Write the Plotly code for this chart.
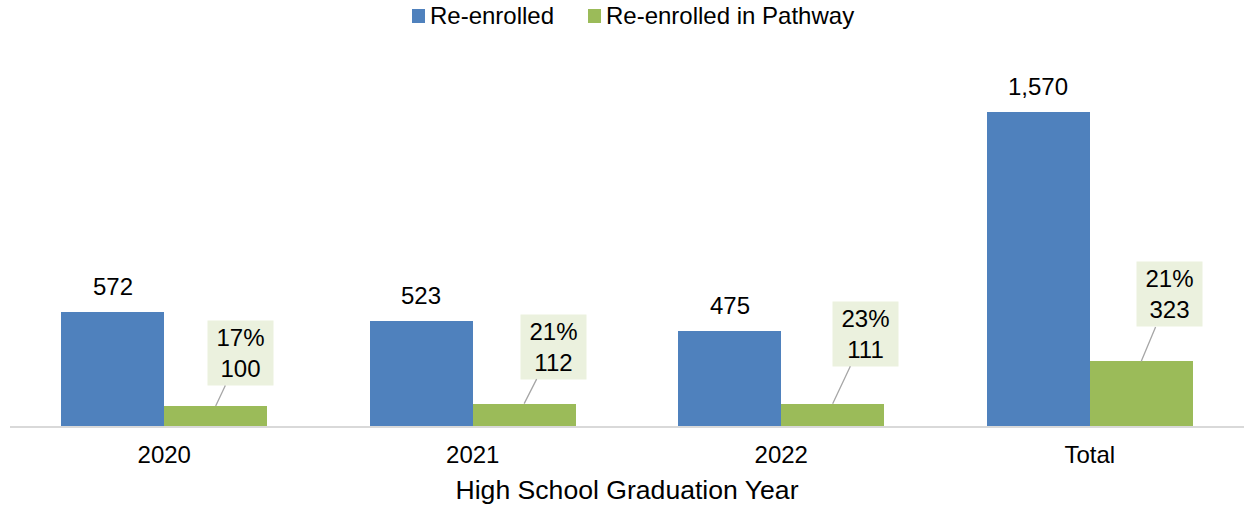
import plotly.graph_objects as go

categories = ["2020", "2021", "2022", "Total"]
re_enrolled = [572, 523, 475, 1570]
re_enrolled_pathway = [100, 112, 111, 323]
series_names = ["Re-enrolled", "Re-enrolled in Pathway"]

BLUE = "#4F81BD"
GREEN = "#9BBB59"
FONT = "Liberation Sans, Arial, sans-serif"

W, H = 1244, 508
ML, MR, MT, MB = 10, 0, 0, 82

# callout offsets (pixels) for pathway labels
callout_dx = [25, 29, 33, 28]
callout_dy = [-53, -57, -70, -67]

xs = list(range(len(categories)))
bw = 1 / 3

fig = go.Figure()
fig.add_trace(go.Bar(
    x=xs, y=re_enrolled, name=series_names[0], marker_color=BLUE,
    width=bw, offset=-bw, marker_line_width=0, showlegend=False,
))
fig.add_trace(go.Bar(
    x=xs, y=re_enrolled_pathway, name=series_names[1], marker_color=GREEN,
    width=bw, offset=0, marker_line_width=0, showlegend=False,
))

annotations = []
for i, (a, b) in enumerate(zip(re_enrolled, re_enrolled_pathway)):
    annotations.append(dict(
        x=i - bw / 2, y=a, text=f"{a:,}", showarrow=False,
        yanchor="bottom", yshift=10, font=dict(size=24, color="black", family=FONT),
    ))
    pct = round(b / a * 100)
    annotations.append(dict(
        x=i + bw / 2, y=b, text=f"{pct}%<br>{b:,}", showarrow=True,
        arrowhead=0, arrowwidth=1.3, arrowcolor="#A6A6A6",
        ax=callout_dx[i], ay=callout_dy[i], standoff=0,
        bgcolor="#EBF1DE", borderpad=3, width=59, height=58,
        font=dict(size=24, color="black", family=FONT),
    ))

# manual legend (pixel positions converted to paper coordinates)
pw, ph = W - ML - MR, H - MT - MB
def px(x):
    return (x - ML) / pw
def py(y):
    return (H - MB - y) / ph

shapes = []
legend_items = [(series_names[0], BLUE, 412), (series_names[1], GREEN, 588)]
for name, color, x0 in legend_items:
    shapes.append(dict(type="rect", xref="paper", yref="paper",
                       x0=px(x0), x1=px(x0 + 13), y0=py(23), y1=py(9),
                       fillcolor=color, line=dict(width=0)))
    annotations.append(dict(xref="paper", yref="paper", x=px(x0 + 16), y=py(16),
                            xanchor="left", yanchor="middle", text=name,
                            showarrow=False, font=dict(size=24, color="black", family=FONT)))

fig.update_layout(
    width=W, height=H,
    margin=dict(l=ML, r=MR, t=MT, b=MB),
    plot_bgcolor="white", paper_bgcolor="white",
    font=dict(family=FONT, size=24, color="black"),
    showlegend=False,
    annotations=annotations,
    shapes=shapes,
    bargap=0,
)
fig.update_xaxes(
    tickmode="array", tickvals=xs, ticktext=categories, range=[-0.5, 3.5],
    showline=True, linecolor="#D9D9D9", linewidth=2, showgrid=False,
    ticks="", tickfont=dict(size=24), automargin=False, ticklabelstandoff=6,
    title=dict(text="High School Graduation Year", font=dict(size=26.6), standoff=14),
    zeroline=False,
)
fig.update_yaxes(range=[0, 1930], domain=[0, 386 / 426], visible=False,
                 showgrid=False, zeroline=False, automargin=False)

fig.write_html("out.html", config={"displayModeBar": False},
               post_script="document.body.style.margin='0';")
